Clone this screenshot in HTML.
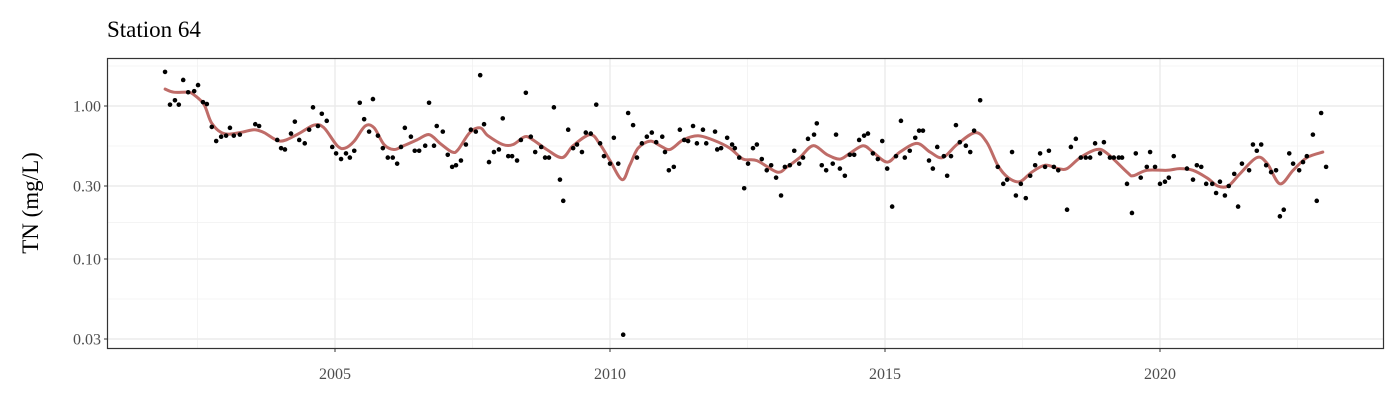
<!DOCTYPE html>
<html><head><meta charset="utf-8"><style>
body{margin:0;background:#fff;}
svg text{font-family:"Liberation Serif",serif;}
</style></head><body>
<svg id="chart" width="1400" height="400" xmlns="http://www.w3.org/2000/svg">
<text x="107" y="37" font-size="23" fill="#000">Station 64</text>
<text transform="translate(38,203) rotate(-90)" text-anchor="middle" font-size="23" fill="#000">TN (mg/L)</text>
<g id="grid"></g><g id="trend"></g><g id="pts"></g><g id="axes"></g>
<rect x="107.5" y="58.5" width="1276" height="290" fill="none" stroke="#333" stroke-width="1.2"/>
</svg>
<script>
const ptYears=[2001.91,2002.00,2002.09,2002.16,2002.24,2002.33,2002.44,2002.51,2002.60,2002.67,2002.76,2002.84,2002.93,2003.02,2003.09,2003.16,2003.27,2003.55,2003.62,2003.95,2004.02,2004.09,2004.20,2004.27,2004.35,2004.45,2004.53,2004.60,2004.69,2004.76,2004.85,2004.95,2005.02,2005.11,2005.20,2005.27,2005.35,2005.45,2005.53,2005.62,2005.69,2005.78,2005.87,2005.96,2006.05,2006.13,2006.20,2006.27,2006.38,2006.45,2006.53,2006.64,2006.71,2006.80,2006.85,2006.96,2007.05,2007.13,2007.20,2007.29,2007.38,2007.47,2007.56,2007.64,2007.71,2007.80,2007.89,2007.98,2008.05,2008.15,2008.22,2008.31,2008.38,2008.47,2008.56,2008.64,2008.75,2008.82,2008.89,2008.98,2009.09,2009.15,2009.24,2009.33,2009.40,2009.49,2009.56,2009.65,2009.75,2009.82,2009.89,2010.00,2010.07,2010.15,2010.24,2010.33,2010.42,2010.49,2010.58,2010.67,2010.76,2010.84,2010.95,2011.00,2011.07,2011.16,2011.27,2011.35,2011.42,2011.51,2011.58,2011.69,2011.75,2011.91,2011.95,2012.02,2012.13,2012.22,2012.27,2012.35,2012.44,2012.51,2012.60,2012.67,2012.76,2012.85,2012.93,2013.02,2013.11,2013.18,2013.27,2013.35,2013.44,2013.51,2013.60,2013.71,2013.76,2013.85,2013.93,2014.05,2014.11,2014.18,2014.27,2014.36,2014.44,2014.53,2014.62,2014.69,2014.78,2014.87,2014.95,2015.04,2015.13,2015.20,2015.29,2015.36,2015.45,2015.55,2015.62,2015.69,2015.80,2015.87,2015.95,2016.07,2016.13,2016.20,2016.29,2016.36,2016.47,2016.55,2016.62,2016.73,2017.05,2017.15,2017.22,2017.31,2017.38,2017.47,2017.56,2017.64,2017.73,2017.82,2017.91,2017.98,2018.07,2018.15,2018.31,2018.38,2018.47,2018.56,2018.65,2018.73,2018.82,2018.91,2018.98,2019.09,2019.16,2019.25,2019.31,2019.40,2019.49,2019.56,2019.65,2019.76,2019.82,2019.91,2020.00,2020.09,2020.16,2020.25,2020.49,2020.60,2020.67,2020.75,2020.84,2020.95,2021.02,2021.09,2021.18,2021.25,2021.35,2021.42,2021.49,2021.62,2021.69,2021.76,2021.84,2021.93,2022.02,2022.11,2022.18,2022.25,2022.35,2022.42,2022.53,2022.60,2022.67,2022.78,2022.85,2022.93,2023.02];
const ptValues=[1.67,1.02,1.09,1.02,1.48,1.23,1.25,1.37,1.06,1.03,0.73,0.59,0.63,0.64,0.72,0.64,0.65,0.76,0.74,0.60,0.53,0.52,0.66,0.79,0.60,0.57,0.70,0.98,0.74,0.89,0.80,0.54,0.49,0.45,0.49,0.46,0.51,1.05,0.82,0.68,1.11,0.64,0.53,0.46,0.46,0.42,0.54,0.72,0.63,0.51,0.51,0.55,1.05,0.55,0.74,0.68,0.48,0.40,0.41,0.44,0.56,0.70,0.68,1.59,0.76,0.43,0.50,0.52,0.83,0.47,0.47,0.44,0.60,1.22,0.63,0.50,0.54,0.46,0.46,0.98,0.33,0.24,0.70,0.53,0.56,0.50,0.67,0.66,1.02,0.57,0.47,0.42,0.62,0.42,0.032,0.90,0.75,0.46,0.57,0.63,0.67,0.58,0.63,0.50,0.38,0.40,0.70,0.60,0.59,0.74,0.57,0.70,0.57,0.68,0.52,0.53,0.62,0.56,0.53,0.46,0.29,0.42,0.53,0.56,0.45,0.38,0.41,0.34,0.26,0.40,0.41,0.51,0.42,0.46,0.61,0.65,0.77,0.41,0.38,0.42,0.65,0.39,0.35,0.48,0.48,0.60,0.64,0.66,0.49,0.45,0.59,0.39,0.22,0.47,0.80,0.46,0.51,0.62,0.69,0.69,0.44,0.39,0.54,0.47,0.35,0.47,0.75,0.58,0.55,0.50,0.69,1.09,0.40,0.31,0.33,0.50,0.26,0.31,0.25,0.35,0.41,0.49,0.40,0.51,0.40,0.38,0.21,0.54,0.61,0.46,0.46,0.46,0.57,0.49,0.58,0.46,0.46,0.46,0.46,0.31,0.20,0.49,0.34,0.40,0.50,0.40,0.31,0.32,0.34,0.47,0.39,0.33,0.41,0.40,0.31,0.31,0.27,0.32,0.26,0.30,0.36,0.22,0.42,0.38,0.56,0.51,0.56,0.41,0.37,0.38,0.19,0.21,0.49,0.42,0.38,0.43,0.47,0.65,0.24,0.90,0.40];
const trendYears=[2001.91,2002.07,2002.33,2002.44,2002.62,2002.76,2002.98,2003.27,2003.53,2003.71,2004.00,2004.31,2004.62,2004.80,2005.04,2005.18,2005.35,2005.55,2005.71,2005.89,2006.07,2006.25,2006.49,2006.71,2006.91,2007.13,2007.24,2007.45,2007.64,2007.78,2008.05,2008.24,2008.45,2008.60,2008.85,2009.13,2009.33,2009.64,2009.82,2010.00,2010.22,2010.36,2010.51,2010.73,2010.91,2011.09,2011.33,2011.60,2011.87,2012.18,2012.42,2012.67,2013.04,2013.22,2013.45,2013.69,2013.95,2014.18,2014.36,2014.60,2014.78,2015.04,2015.27,2015.58,2015.82,2016.05,2016.31,2016.64,2016.85,2017.05,2017.24,2017.45,2017.67,2017.91,2018.15,2018.31,2018.55,2018.85,2019.04,2019.40,2019.51,2019.76,2020.13,2020.36,2020.60,2020.85,2021.05,2021.24,2021.45,2021.76,2021.95,2022.18,2022.42,2022.67,2022.96];
const trendValues=[1.29,1.23,1.23,1.18,1.02,0.77,0.66,0.67,0.70,0.67,0.59,0.65,0.75,0.72,0.55,0.53,0.59,0.74,0.72,0.56,0.52,0.55,0.60,0.65,0.57,0.50,0.52,0.67,0.72,0.64,0.56,0.56,0.63,0.60,0.52,0.46,0.55,0.65,0.56,0.44,0.33,0.41,0.53,0.59,0.55,0.52,0.60,0.64,0.60,0.53,0.45,0.44,0.37,0.40,0.46,0.55,0.48,0.45,0.49,0.55,0.50,0.43,0.50,0.57,0.50,0.46,0.56,0.67,0.58,0.41,0.34,0.32,0.37,0.41,0.39,0.39,0.46,0.52,0.49,0.37,0.35,0.38,0.38,0.39,0.38,0.34,0.30,0.30,0.36,0.46,0.42,0.31,0.38,0.46,0.50];
const xTicks=[2005,2010,2015,2020];
const xMinor=[2002.5,2007.5,2012.5,2017.5,2022.5];
const yTicks=[1.00,0.30,0.10,0.03];
const yTickLabels=["1.00","0.30","0.10","0.03"];
const yMinor=[1.826,0.548,0.173,0.0548];

const NS="http://www.w3.org/2000/svg";
function X(yr){return 335+(yr-2005)*55;}
function Y(v){return 106-153*Math.log10(v);}
function mk(tag,attrs,parent){const e=document.createElementNS(NS,tag);for(const k in attrs)e.setAttribute(k,attrs[k]);parent.appendChild(e);return e;}
const grid=document.getElementById('grid'),axes=document.getElementById('axes'),pts=document.getElementById('pts'),trend=document.getElementById('trend');
const L=108,R=1383,T=59,B=348;
xMinor.forEach(t=>{const l=mk('line',{x1:X(t),x2:X(t),y1:T,y2:B,stroke:'#f2f2f2','stroke-width':0.8},grid);

});
yMinor.forEach(t=>{if(Y(t)<T)return;const l=mk('line',{x1:L,x2:R,y1:Y(t),y2:Y(t),stroke:'#f2f2f2','stroke-width':0.8},grid);

});
xTicks.forEach(t=>{const l=mk('line',{x1:X(t),x2:X(t),y1:T,y2:B,stroke:'#ebebeb','stroke-width':1.4},grid);


const tk=mk('line',{x1:X(t),x2:X(t),y1:B,y2:B+4,stroke:'#333','stroke-width':1},axes);


const tx=mk('text',{x:X(t),y:379,'text-anchor':'middle','font-size':16,fill:'#4d4d4d'},axes);tx.textContent=t;

});
yTicks.forEach((t,i)=>{const l=mk('line',{x1:L,x2:R,y1:Y(t),y2:Y(t),stroke:'#ebebeb','stroke-width':1.4},grid);


const tk=mk('line',{x1:L-4,x2:L,y1:Y(t),y2:Y(t),stroke:'#333','stroke-width':1},axes);


const tx=mk('text',{x:L-7,y:Y(t)+5.5,'text-anchor':'end','font-size':16,fill:'#4d4d4d'},axes);tx.textContent=yTickLabels[i];

});
const P=trendYears.map((y,i)=>[X(y),Y(trendValues[i])]);
let d='M'+P[0][0].toFixed(1)+','+P[0][1].toFixed(1);
for(let i=0;i<P.length-1;i++){const p0=P[Math.max(0,i-1)],p1=P[i],p2=P[i+1],p3=P[Math.min(P.length-1,i+2)];
const c1=[p1[0]+(p2[0]-p0[0])/6,p1[1]+(p2[1]-p0[1])/6],c2=[p2[0]-(p3[0]-p1[0])/6,p2[1]-(p3[1]-p1[1])/6];
d+='C'+c1.map(v=>v.toFixed(1)).join(',')+' '+c2.map(v=>v.toFixed(1)).join(',')+' '+p2.map(v=>v.toFixed(1)).join(',');}
const p=mk('path',{d:d,fill:'none',stroke:'#b85c58','stroke-opacity':0.9,'stroke-width':3,'stroke-linejoin':'round','stroke-linecap':'round'},trend);


ptYears.forEach((y,i)=>{const c=mk('circle',{cx:X(y),cy:Y(ptValues[i]),r:2.3,fill:'#000'},pts);

});
</script>
</body></html>
